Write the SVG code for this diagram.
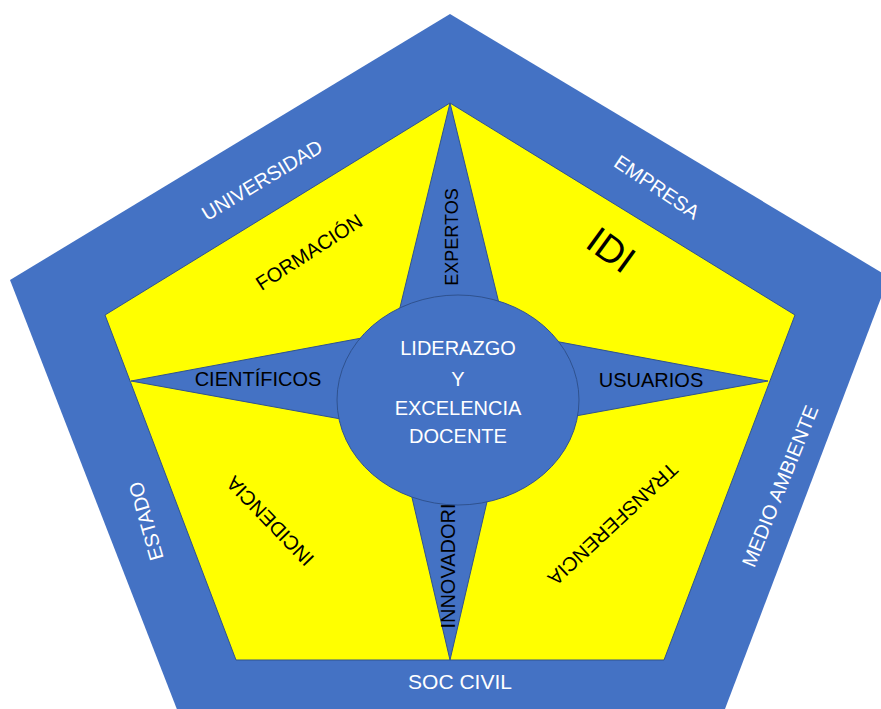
<svg xmlns="http://www.w3.org/2000/svg" width="881" height="709" viewBox="0 0 881 709">
<style>
.blue{fill:#4472C4}
.edge{stroke:#2F528F;stroke-width:1}
.yellow{fill:#FFFF00}
text{font-family:"Liberation Sans",Arial,sans-serif;text-anchor:middle}
.w{fill:#FFFFFF;font-size:20px}
.k{fill:#000000;font-size:20px}
</style>
<rect x="0" y="0" width="881" height="709" fill="#FFFFFF"/>
<g id="outer-pentagon">
<polygon class="blue" points="450,14 889,277 717,730 185,730 10,280"/>
</g>
<g id="inner-pentagon">
<polygon class="yellow edge" points="450,103 795,315 664,660 236,660 105,315"/>
</g>
<g id="star">
<polygon class="blue edge" points="450,103 506,332 768,381 504,429 450,660 396,429 131,381 394,332"/>
</g>
<g id="star-labels">
<text class="k" transform="translate(458,237) rotate(-90)" font-size="18" style="font-size:18px">EXPERTOS</text>
<text class="k" x="258" y="386">CIENTÍFICOS</text>
<text class="k" x="651" y="387">USUARIOS</text>
<text class="k" transform="translate(455,566) rotate(-90)">INNOVADORI</text>
</g>
<g id="center">
<ellipse class="blue edge" cx="458" cy="400" rx="121" ry="105"/>
<text class="w" x="458" y="355">LIDERAZGO</text>
<text class="w" x="458" y="386">Y</text>
<text class="w" x="458" y="415">EXCELENCIA</text>
<text class="w" x="458" y="443">DOCENTE</text>
</g>
<g id="outer-labels">
<text class="w" transform="translate(262,180) rotate(-31)" dy="7">UNIVERSIDAD</text>
<text class="w" transform="translate(657,187) rotate(34)" dy="7">EMPRESA</text>
<text class="w" transform="translate(780,486) rotate(-68)" dy="7">MEDIO AMBIENTE</text>
<text class="w" transform="translate(146,521) rotate(-106)" dy="7">ESTADO</text>
<text class="w" x="460" y="689" style="font-size:21px">SOC CIVIL</text>
</g>
<g id="inner-labels">
<text class="k" transform="translate(309,252) rotate(-33)" dy="7">FORMACIÓN</text>
<text class="k" transform="translate(611,250) rotate(36)" dy="13" style="font-size:38px">IDI</text>
<text class="k" transform="translate(270,521) rotate(-134)" dy="7">INCIDENCIA</text>
<text class="k" transform="translate(613,524) rotate(137)" dy="7">TRANSFERENCIA</text>
</g>
</svg>
